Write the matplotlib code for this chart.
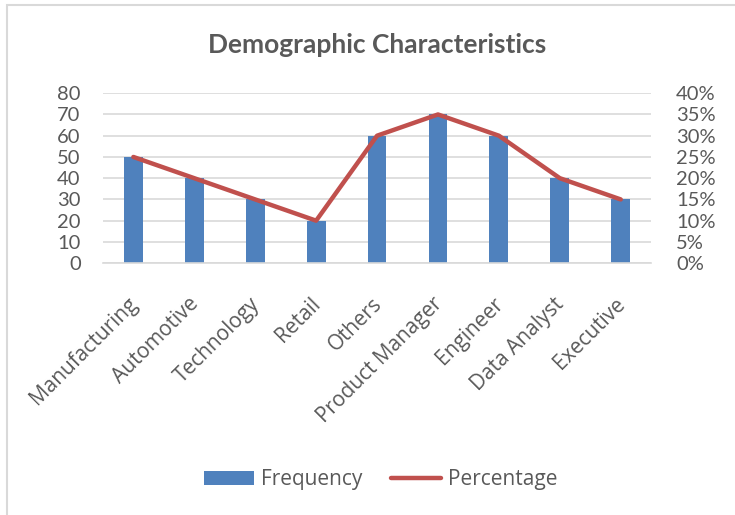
import matplotlib
matplotlib.use("Agg")
import matplotlib.pyplot as plt
import matplotlib.transforms as mtransforms
from matplotlib.patches import Rectangle
from matplotlib.ticker import FuncFormatter

plt.rcParams["font.family"] = ["Lato", "DejaVu Sans"]

categories = ["Manufacturing", "Automotive", "Technology", "Retail", "Others",
              "Product Manager", "Engineer", "Data Analyst", "Executive"]
frequency = [50, 40, 30, 20, 60, 70, 60, 40, 30]
percentage = [25, 20, 15, 10, 30, 35, 30, 20, 15]

BAR_COLOR = "#4F81BD"
LINE_COLOR = "#C0504D"
TEXT_COLOR = "#595959"
GRID_COLOR = "#D9D9D9"

fig = plt.figure(figsize=(7.35, 5.15), dpi=100)
ax1 = fig.add_axes([0.140, 0.489, 0.746, 0.330])
ax2 = ax1.twinx()

x = list(range(len(categories)))
ax1.bar(x, frequency, width=0.31, color=BAR_COLOR, label="Frequency", zorder=2)
ax2.plot(x, percentage, color=LINE_COLOR, lw=3.2, label="Percentage",
         solid_capstyle="round", zorder=3)

ax1.set_xlim(-0.5, len(categories) - 0.5)
ax1.set_ylim(0, 80)
ax1.set_yticks(range(0, 81, 10))
ax2.set_ylim(0, 40)
ax2.set_yticks(range(0, 41, 5))
ax2.yaxis.set_major_formatter(FuncFormatter(lambda v, _: f"{v:.0f}%"))

ax1.grid(True, axis="y", color=GRID_COLOR, lw=1.2, zorder=0)
ax1.set_axisbelow(True)
for a in (ax1, ax2):
    for s in a.spines.values():
        s.set_visible(False)
    a.tick_params(length=0, labelsize=14.5, labelcolor=TEXT_COLOR)
ax1.spines["bottom"].set_visible(True)
ax1.spines["bottom"].set_color(GRID_COLOR)
ax1.spines["bottom"].set_linewidth(1.2)
ax1.tick_params(axis="y", pad=16)
ax2.tick_params(axis="y", pad=18)

ax1.set_xticks(x)
ax1.set_xticklabels(categories, rotation=45, ha="right", rotation_mode="anchor",
                    fontsize=15, family=["Open Sans", "DejaVu Sans"])
ax1.tick_params(axis="x", pad=22)
shift = mtransforms.ScaledTranslation(-6 / 100, 0, fig.dpi_scale_trans)
for lab in ax1.get_xticklabels():
    lab.set_transform(lab.get_transform() + shift)

ax2.set_zorder(ax1.get_zorder() + 1)
ax2.patch.set_visible(False)

fig.text(0.513, 0.912, "Demographic Characteristics", ha="center", va="center",
         fontsize=19, fontweight="bold", color=TEXT_COLOR)

h1, l1 = ax1.get_legend_handles_labels()
h2, l2 = ax2.get_legend_handles_labels()
fig.legend(h1 + h2, l1 + l2, loc="center", bbox_to_anchor=(0.518, 0.068), ncol=2,
           frameon=False, labelcolor=TEXT_COLOR, handlelength=2.4,
           columnspacing=1.4, handletextpad=0.3,
           prop={"family": ["Open Sans", "DejaVu Sans"], "size": 15})

fig.patches.append(Rectangle((0.009, -0.01), 1.1, 1.0, transform=fig.transFigure,
                             fill=False, edgecolor="#D9D9D9", lw=1.5))

fig.savefig("out.png", dpi=100)
